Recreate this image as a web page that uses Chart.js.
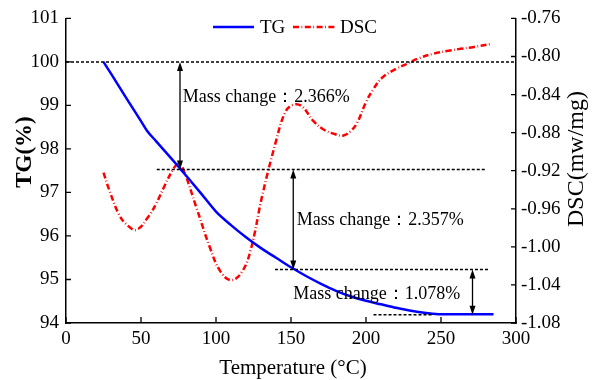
<!DOCTYPE html>
<html>
<head>
  <title>TG-DSC</title>
  <style>
    body { margin: 0; background: #ffffff; }
    #box { width: 598px; height: 380px; }
  </style>
  <script src="https://cdn.jsdelivr.net/npm/chart.js"></script>
</head>
<body>
  <div id="box"><canvas id="grafico" width="598" height="380"></canvas></div>
<script>
  // TG curve (temperature in C, mass %)
  var tgTemp = [25, 30, 40, 50, 54, 60, 70, 76, 80, 90, 100, 110, 120, 130, 140, 150, 160, 170, 180, 190, 200, 210, 220, 230, 240, 250, 285];
  var tgMass = [100, 99.73, 99.18, 98.64, 98.42, 98.18, 97.79, 97.55, 97.39, 96.98, 96.56, 96.25, 95.97, 95.72, 95.5, 95.28, 95.08, 94.9, 94.74, 94.61, 94.51, 94.43, 94.35, 94.28, 94.23, 94.2, 94.2];

  // DSC curve (mw/mg)
  var dscTemp = [25, 29, 35, 40, 47, 55, 60, 66, 72, 75, 78, 87, 96, 103, 110, 117, 123, 131, 140, 146, 151, 157, 165, 172, 180, 185, 190, 194, 200, 205, 211, 220, 227, 235, 245, 255, 263, 272, 283];
  var dscVal = [-0.922, -0.941, -0.965, -0.976, -0.982, -0.968, -0.955, -0.935, -0.917, -0.913, -0.918, -0.959, -1.001, -1.026, -1.035, -1.027, -1.004, -0.945, -0.889, -0.859, -0.851, -0.852, -0.868, -0.877, -0.882, -0.883, -0.878, -0.870, -0.848, -0.834, -0.822, -0.813, -0.808, -0.802, -0.797, -0.794, -0.792, -0.790, -0.787];

  // mass change steps
  var niveis = [100, 97.53, 95.23, 94.19];
  var linhaInicio = [0, 60.5, 139.3, 205];
  var linhaFim = [300, 280.5, 282, 245];
  var setaX = [76, 151.5, 271];
  var rotulos = ["Mass change：2.366%", "Mass change：2.357%", "Mass change：1.078%"];
  var rotuloX = [77.8, 153.8, 151.5];
  var rotuloY = [99.19, 96.36, 94.67];

  var fonte = "'Liberation Serif', 'Times New Roman', serif";
  var tracoDSC = [6, 2.5, 0.8, 2.5];

  function juntar(xs, ys) {
    var pts = [];
    for (var i = 0; i < xs.length; i++) pts.push({ x: xs[i], y: ys[i] });
    return pts;
  }

  function seta(ctx, x, y1, y2) {
    // double headed arrow between pixel y1 (top) and y2 (bottom)
    ctx.save();
    ctx.strokeStyle = '#000';
    ctx.fillStyle = '#000';
    ctx.lineWidth = 1.3;
    ctx.setLineDash([]);
    ctx.beginPath();
    ctx.moveTo(x, y1 + 4);
    ctx.lineTo(x, y2 - 4);
    ctx.stroke();
    ctx.beginPath();
    ctx.moveTo(x, y1);
    ctx.lineTo(x - 3, y1 + 9);
    ctx.lineTo(x + 3, y1 + 9);
    ctx.closePath();
    ctx.fill();
    ctx.beginPath();
    ctx.moveTo(x, y2);
    ctx.lineTo(x - 3, y2 - 9);
    ctx.lineTo(x + 3, y2 - 9);
    ctx.closePath();
    ctx.fill();
    ctx.restore();
  }

  var extras = {
    id: 'extras',
    afterDraw: function (chart) {
      var ctx = chart.ctx;
      var xs = chart.scales.x, ys = chart.scales.y, y1s = chart.scales.y1;
      var a = chart.chartArea;

      // inward tick marks
      ctx.save();
      ctx.strokeStyle = '#000';
      ctx.lineWidth = 1.3;
      ctx.beginPath();
      xs.ticks.forEach(function (t) {
        var p = xs.getPixelForValue(t.value);
        ctx.moveTo(p, a.bottom);
        ctx.lineTo(p, a.bottom - 6);
      });
      ys.ticks.forEach(function (t) {
        var p = ys.getPixelForValue(t.value);
        ctx.moveTo(a.left, p);
        ctx.lineTo(a.left + 5, p);
      });
      y1s.ticks.forEach(function (t) {
        var p = y1s.getPixelForValue(t.value);
        ctx.moveTo(a.right, p);
        ctx.lineTo(a.right - 5, p);
      });
      ctx.stroke();

      // dotted level lines
      ctx.lineWidth = 1.5;
      ctx.setLineDash([3, 2]);
      for (var i = 0; i < niveis.length; i++) {
        var py = ys.getPixelForValue(niveis[i]);
        ctx.beginPath();
        ctx.moveTo(xs.getPixelForValue(linhaInicio[i]), py);
        ctx.lineTo(xs.getPixelForValue(linhaFim[i]), py);
        ctx.stroke();
      }
      ctx.restore();

      for (var j = 0; j < setaX.length; j++) {
        seta(ctx, xs.getPixelForValue(setaX[j]), ys.getPixelForValue(niveis[j]), ys.getPixelForValue(niveis[j + 1]));
      }

      // labels
      ctx.save();
      ctx.fillStyle = '#000';
      ctx.font = "18px " + fonte;
      ctx.textAlign = 'left';
      ctx.textBaseline = 'middle';
      for (var k = 0; k < rotulos.length; k++) {
        ctx.fillText(rotulos[k], xs.getPixelForValue(rotuloX[k]), ys.getPixelForValue(rotuloY[k]));
      }

      // axis titles
      ctx.textAlign = 'center';
      ctx.font = "21px " + fonte;
      ctx.fillText("Temperature (°C)", 293, 368);
      ctx.save();
      ctx.translate(25, 152);
      ctx.rotate(-Math.PI / 2);
      ctx.font = "bold 23px " + fonte;
      ctx.fillText("TG(%)", 0, 0);
      ctx.restore();
      ctx.save();
      ctx.translate(577, 159);
      ctx.rotate(-Math.PI / 2);
      ctx.font = "24px " + fonte;
      ctx.fillText("DSC(mw/mg)", 0, 0);
      ctx.restore();

      // legend
      ctx.lineWidth = 2.5;
      ctx.strokeStyle = '#0000ff';
      ctx.beginPath();
      ctx.moveTo(213, 27);
      ctx.lineTo(254, 27);
      ctx.stroke();
      ctx.strokeStyle = '#ff0000';
      ctx.setLineDash(tracoDSC);
      ctx.beginPath();
      ctx.moveTo(293, 27);
      ctx.lineTo(335, 27);
      ctx.stroke();
      ctx.setLineDash([]);
      ctx.textAlign = 'left';
      ctx.font = "19px " + fonte;
      ctx.fillText("TG", 260, 28);
      ctx.fillText("DSC", 340, 28);
      ctx.restore();
    }
  };

  var tickFont = { family: fonte, size: 19 };

  new Chart(document.getElementById('grafico'), {
    type: 'line',
    data: {
      datasets: [{
        label: 'TG',
        data: juntar(tgTemp, tgMass),
        yAxisID: 'y',
        borderColor: '#0000ff',
        borderWidth: 2.5,
        pointRadius: 0,
        cubicInterpolationMode: 'monotone',
        fill: false
      }, {
        label: 'DSC',
        data: juntar(dscTemp, dscVal),
        yAxisID: 'y1',
        borderColor: '#ff0000',
        borderWidth: 2.5,
        borderDash: tracoDSC,
        pointRadius: 0,
        tension: 0.4,
        fill: false
      }]
    },
    options: {
      responsive: false,
      animation: false,
      layout: { padding: { top: 18, left: 0, right: 0, bottom: 0 } },
      plugins: { legend: { display: false }, tooltip: { enabled: false } },
      scales: {
        x: {
          type: 'linear',
          min: 0,
          max: 300,
          afterFit: function (s) { s.height = 57; },
          ticks: { stepSize: 50, color: '#000', font: tickFont, padding: 5, maxRotation: 0 },
          grid: { display: false, drawTicks: false },
          border: { display: true, color: '#000', width: 1.5 }
        },
        y: {
          position: 'left',
          min: 94,
          max: 101,
          afterFit: function (s) { s.width = 66; },
          ticks: { stepSize: 1, color: '#000', font: tickFont, padding: 7 },
          grid: { display: false, drawTicks: false },
          border: { display: true, color: '#000', width: 1.5 }
        },
        y1: {
          position: 'right',
          min: -1.08,
          max: -0.76,
          afterFit: function (s) { s.width = 82; },
          ticks: {
            stepSize: 0.04, color: '#000', font: tickFont, padding: 5,
            callback: function (v) { return v.toFixed(2); }
          },
          grid: { display: false, drawTicks: false },
          border: { display: true, color: '#000', width: 1.5 }
        }
      }
    },
    plugins: [extras]
  });
</script>
</body>
</html>
